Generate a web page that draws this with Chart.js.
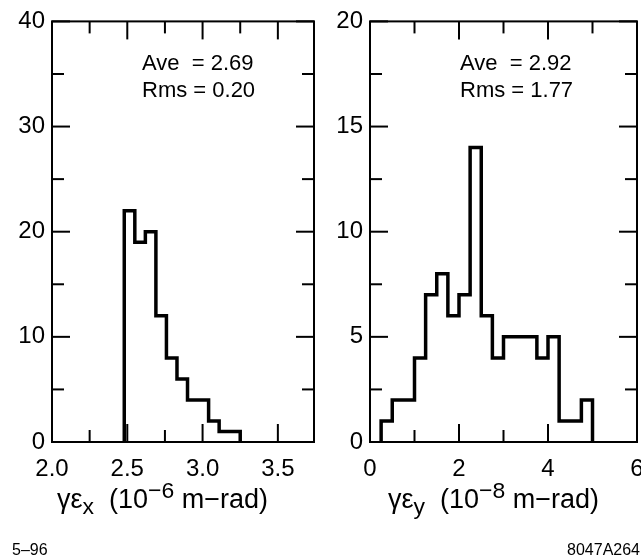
<!DOCTYPE html>
<html>
<head>
<meta charset="utf-8">
<script src="https://cdn.jsdelivr.net/npm/chart.js@4.4.0/dist/chart.umd.min.js"></script>
<style>
body { margin:0; width:641px; height:559px; overflow:hidden; background:#fff; position:relative;
       font-family:"Liberation Sans", Arial, sans-serif; color:#000; }
canvas { position:absolute; top:0; }
#chartLeft { left:0; }
#chartRight { left:320px; }
.txt { position:absolute; white-space:pre; }
.stats { font-size:22px; line-height:27px; }
.axtitle { font-size:27px; line-height:26px; }
.sub { position:relative; top:6px; font-size:0.85em; }
.sup { position:relative; top:-10px; font-size:0.85em; }
.foot { font-size:16px; line-height:16px; }
</style>
</head>
<body>
<canvas id="chartLeft" width="320" height="559"></canvas>
<canvas id="chartRight" width="340" height="559"></canvas>

<div class="txt stats" style="left:142px; top:49px;">Ave  = 2.69<br>Rms = 0.20</div>
<div class="txt stats" style="left:460px; top:49px;">Ave  = 2.92<br>Rms = 1.77</div>

<div class="txt axtitle" style="left:57px; top:486px;">γε<span class="sub">x</span>  (10<span class="sup">−6</span> m−rad)</div>
<div class="txt axtitle" style="left:388px; top:486px;">γε<span class="sub">y</span>  (10<span class="sup">−8</span> m−rad)</div>

<div class="txt foot" style="left:12px; top:542px;">5–96</div>
<div class="txt foot" style="right:1px; top:542px;">8047A264</div>

<script>
//Histogram of gamma*eps_x (10^-6 m-rad), left panel
var emitxEdges = [2.48, 2.55, 2.62, 2.69, 2.76, 2.83, 2.90, 2.97, 3.04, 3.11, 3.18, 3.25];
var emitxCounts = [22, 19, 20, 12, 8, 6, 4, 4, 2, 1, 1];
var emitxTicks = [2.0, 2.5, 3.0, 3.5];
var emitxMinor = [2.25, 2.75, 3.25];
var countxTicks = [0, 10, 20, 30, 40];
var countxMinor = [5, 15, 25, 35];

//Histogram of gamma*eps_y (10^-8 m-rad), right panel
var emityEdges = [0.25, 0.5, 0.75, 1.0, 1.25, 1.5, 1.75, 2.0, 2.25, 2.5, 2.75, 3.0, 3.25, 3.5, 3.75, 4.0, 4.25, 4.5, 4.75, 5.0];
var emityCounts = [1, 2, 2, 4, 7, 8, 6, 7, 14, 6, 4, 5, 5, 5, 4, 5, 1, 1, 2];
var emityTicks = [0, 2, 4, 6];
var emityMinor = [1, 3, 5];
var countyTicks = [0, 5, 10, 15, 20];
var countyMinor = [2.5, 7.5, 12.5, 17.5];

var fontFam = '"Liberation Sans", Arial, sans-serif';

//turn bin edges + counts into the outline of the histogram
function stepPoints(edges, counts) {
    var pts = [{x: edges[0], y: 0}];
    counts.forEach(function(c, i) {
        pts.push({x: edges[i + 1], y: c});
    });
    pts.push({x: edges[edges.length - 1], y: 0});
    return pts;
}

//frame with inward ticks on all four sides
function framePlugin(xMajor, xMinor, yMajor, yMinor) {
    return {
        id: 'frame',
        afterDatasetsDraw: function(chart) {
            var a = chart.chartArea;
            var ctx = chart.ctx;
            var sx = chart.scales.x;
            var sy = chart.scales.y;
            ctx.save();
            ctx.strokeStyle = '#000';
            ctx.lineWidth = 2;
            ctx.strokeRect(a.left, a.top, a.right - a.left, a.bottom - a.top);
            function line(x1, y1, x2, y2) {
                ctx.beginPath();
                ctx.moveTo(x1, y1);
                ctx.lineTo(x2, y2);
                ctx.stroke();
            }
            function xt(v, len) {
                var p = sx.getPixelForValue(v);
                line(p, a.bottom, p, a.bottom - len);
                line(p, a.top, p, a.top + len);
            }
            function yt(v, len) {
                var p = sy.getPixelForValue(v);
                line(a.left, p, a.left + len, p);
                line(a.right, p, a.right - len, p);
            }
            xMajor.forEach(function(v) { xt(v, 18); });
            xMinor.forEach(function(v) { xt(v, 12); });
            yMajor.forEach(function(v) { yt(v, 18); });
            yMinor.forEach(function(v) { yt(v, 12); });
            ctx.restore();
        }
    };
}

function makeHist(id, edges, counts, xMin, xMax, xTicks, xMinor, yMax, yTicks, yMinor, yWidth, padRight, xFmt) {
    var ctx = document.getElementById(id).getContext('2d');
    return new Chart(ctx, {
        type: 'line',
        data: {
            datasets: [{
                data: stepPoints(edges, counts),
                stepped: 'after',
                borderColor: '#000',
                borderWidth: 3.5,
                borderJoinStyle: 'miter',
                pointRadius: 0,
                fill: false
            }]
        },
        options: {
            responsive: false,
            animation: false,
            layout: { padding: { left: 0, top: 15, right: padRight, bottom: 0 } },
            plugins: { legend: { display: false }, tooltip: { enabled: false } },
            scales: {
                x: {
                    type: 'linear',
                    min: xMin,
                    max: xMax,
                    afterBuildTicks: function(s) { s.ticks = xTicks.map(function(v) { return {value: v}; }); },
                    afterFit: function(s) { s.height = 117; },
                    grid: { display: false, drawTicks: false },
                    border: { display: false },
                    ticks: {
                        padding: 13, color: '#000', maxRotation: 0, autoSkip: false,
                        font: { family: fontFam, size: 24 },
                        callback: xFmt
                    }
                },
                y: {
                    type: 'linear',
                    min: 0,
                    max: yMax,
                    afterBuildTicks: function(s) { s.ticks = yTicks.map(function(v) { return {value: v}; }); },
                    afterFit: function(s) { s.width = yWidth; },
                    grid: { display: false, drawTicks: false },
                    border: { display: false },
                    ticks: {
                        padding: 7, color: '#000', autoSkip: false,
                        font: { family: fontFam, size: 24 }
                    }
                }
            }
        },
        plugins: [framePlugin(xTicks, xMinor, yTicks, yMinor)]
    });
}

makeHist('chartLeft', emitxEdges, emitxCounts, 2.0, 3.74, emitxTicks, emitxMinor,
         40, countxTicks, countxMinor, 52, 6, function(v) { return v.toFixed(1); });
makeHist('chartRight', emityEdges, emityCounts, 0, 6, emityTicks, emityMinor,
         20, countyTicks, countyMinor, 50, 23, function(v) { return String(v); });
</script>
</body>
</html>
